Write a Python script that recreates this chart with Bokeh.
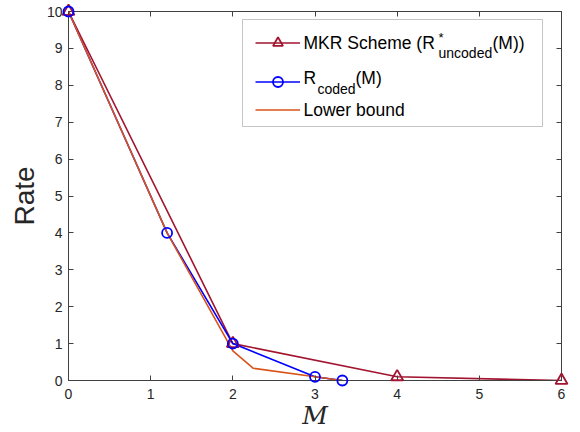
from bokeh.plotting import figure
from bokeh.models import Range1d, LinearAxis, Legend, LegendItem, Label, BoxAnnotation, FixedTicker
from bokeh.embed import file_html
from bokeh.resources import INLINE

# data
mkr_x = [0, 2, 4, 6]
mkr_y = [10, 1, 0.1, 0]
coded_x = [0, 1.2, 2, 3, 3.333]
coded_y = [10, 4, 1, 0.1, 0]
lb_x = [0, 1.2, 2, 2.25, 3, 3.333]
lb_y = [10, 4, 0.8, 0.33, 0.1, 0]
x_ticks = [0, 1, 2, 3, 4, 5, 6]
y_ticks = [0, 1, 2, 3, 4, 5, 6, 7, 8, 9, 10]

RED = "#A2142F"
BLUE = "#0000FF"
ORANGE = "#D95319"
AX = "#404040"
FONT = "Liberation Sans"

p = figure(width=580, height=432, output_backend="svg", toolbar_location=None,
           x_range=Range1d(0, 6), y_range=Range1d(0, 10),
           min_border_left=68, min_border_right=19, min_border_top=11, min_border_bottom=52)
p.grid.visible = False
p.outline_line_color = AX
p.background_fill_color = "white"
p.border_fill_color = "white"

for ax, ticks in ((p.xaxis[0], x_ticks), (p.yaxis[0], y_ticks)):
    ax.ticker = FixedTicker(ticks=ticks)
    ax.axis_line_color = AX
    ax.major_tick_line_color = AX
    ax.major_tick_in = 5
    ax.major_tick_out = 0
    ax.minor_tick_line_color = None
    ax.major_label_text_font = FONT
    ax.major_label_text_font_size = "14px"
    ax.major_label_text_color = "#262626"

p.xaxis.major_label_standoff = 8
p.yaxis.major_label_standoff = 6

p.xaxis.axis_label = "M"
p.xaxis.axis_label_text_font = "DejaVu Serif"
p.xaxis.axis_label_text_font_style = "italic"
p.xaxis.axis_label_text_font_size = "25px"
p.xaxis.axis_label_text_color = "#262626"
p.xaxis.axis_label_standoff = -1
p.yaxis.axis_label = "Rate"
p.yaxis.axis_label_text_font = FONT
p.yaxis.axis_label_text_font_style = "normal"
p.yaxis.axis_label_text_font_size = "28px"
p.yaxis.axis_label_text_color = "#262626"
p.yaxis.axis_label_standoff = 4

for loc, ticks in (("above", x_ticks), ("right", y_ticks)):
    a = LinearAxis(ticker=FixedTicker(ticks=ticks), axis_line_color=AX, major_tick_line_color=AX,
                   major_tick_in=5, major_tick_out=0, minor_tick_line_color=None,
                   major_label_overrides={t: "" for t in ticks}, major_label_standoff=0)
    p.add_layout(a, loc)

r1l = p.line(mkr_x, mkr_y, line_color=RED, line_width=1.6)
r1m = p.scatter(mkr_x, mkr_y, marker="triangle", size=12, line_color=RED, line_width=1.8,
                fill_color=None, level="overlay")
r2l = p.line(coded_x, coded_y, line_color=BLUE, line_width=1.6)
r2m = p.scatter(coded_x, coded_y, marker="circle", size=10, line_color=BLUE, line_width=1.8,
                fill_color=None, level="overlay")
r3l = p.line(lb_x, lb_y, line_color=ORANGE, line_width=1.6)

# layout helpers (reference pixel -> data)
def X(px):
    return (px - 68) / 493 * 6

def Y(py):
    return (380 - py) / 369 * 10

p.add_layout(BoxAnnotation(left=X(242), right=X(542), top=Y(19), bottom=Y(126),
                           fill_color="white", fill_alpha=1, line_color=AX, line_width=1))

GH = 25
for rends, yc in (([r1l, r1m], 42), ([r2l, r2m], 81), ([r3l], 109)):
    lg = Legend(items=[LegendItem(label=" ", renderers=rends)],
                location=(255 - 68, (380 - yc) - GH / 2),
                border_line_color=None, background_fill_alpha=0, padding=0, margin=0,
                glyph_width=45, glyph_height=GH, label_width=0, label_height=GH,
                label_standoff=0, label_text_font_size="1px")
    p.add_layout(lg)

texts = [
    ("MKR Scheme (R", 303, 42, "17.5px"),
    ("*", 438, 37, "13px"),
    ("uncoded", 438, 52, "14px"),
    ("(M))", 492, 42, "17.5px"),
    ("R", 303, 77, "17.5px"),
    ("coded", 317, 88, "14px"),
    ("(M)", 355, 77, "17.5px"),
    ("Lower bound", 303, 109, "17.5px"),
]
for t, px, py, fs in texts:
    p.add_layout(Label(x=X(px), y=Y(py), text=t, text_font=FONT, text_font_size=fs,
                       text_baseline="middle", text_align="left", text_color="black"))

open("out.html", "w").write(file_html(p, INLINE))
